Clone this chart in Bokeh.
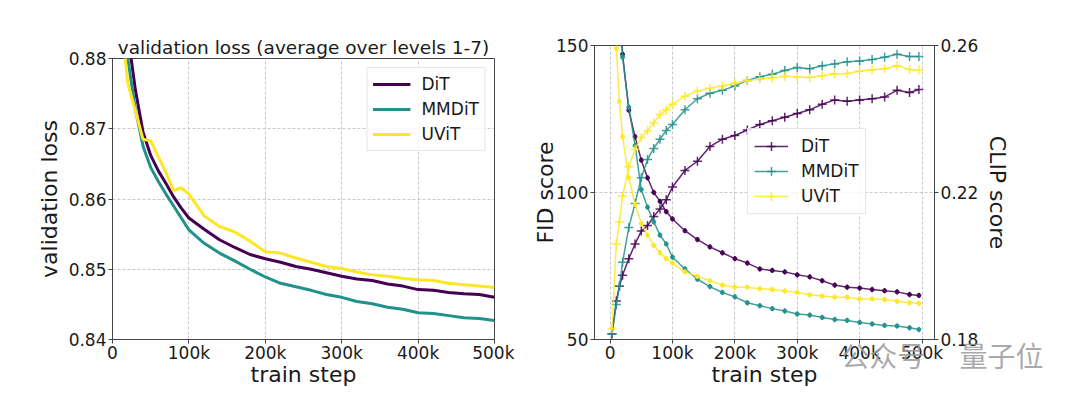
from bokeh.plotting import figure
from bokeh.layouts import row, column
from bokeh.models import (Range1d, LinearAxis, FixedTicker, Legend, LegendItem,
                          Title, ColumnDataSource)
from bokeh.embed import file_html
from bokeh.resources import INLINE

FONT = "DejaVu Sans"
TEXT = "#1a1a1a"
FRAME = "#444444"

models = ["DiT", "MMDiT", "UViT"]
colors = ["#440154", "#21918c", "#fde725"]

# ---------------- left panel: validation loss ----------------
loss_steps = [10000, 20000, 30000, 40000, 50000, 60000, 70000, 80000, 90000, 100000,
              120000, 140000, 160000, 180000, 200000, 220000, 240000, 260000, 280000, 300000,
              320000, 340000, 360000, 380000, 400000, 420000, 440000, 460000, 480000, 500000]
loss_dit = [0.8970, 0.8835, 0.8755, 0.8695, 0.8662, 0.8640, 0.8622, 0.8603, 0.8587, 0.8573,
            0.8557, 0.8542, 0.8531, 0.8521, 0.8515, 0.8510, 0.8504, 0.8500, 0.8495, 0.8490,
            0.8486, 0.8484, 0.8479, 0.8476, 0.8471, 0.8470, 0.8467, 0.8465, 0.8464, 0.8460]
loss_mmdit = [0.8950, 0.8800, 0.8727, 0.8675, 0.8645, 0.8625, 0.8607, 0.8590, 0.8573, 0.8556,
              0.8537, 0.8523, 0.8512, 0.8500, 0.8489, 0.8480, 0.8475, 0.8470, 0.8464, 0.8460,
              0.8454, 0.8451, 0.8446, 0.8443, 0.8438, 0.8437, 0.8434, 0.8431, 0.8430, 0.8427]
loss_uvit = [0.8870, 0.8765, 0.8725, 0.8685, 0.8683, 0.8660, 0.8638, 0.8612, 0.8616, 0.8607,
             0.8576, 0.8561, 0.8553, 0.8540, 0.8525, 0.8523, 0.8516, 0.8510, 0.8504, 0.8501,
             0.8496, 0.8492, 0.8490, 0.8487, 0.8485, 0.8484, 0.8480, 0.8478, 0.8476, 0.8474]

x_ticks = [0, 100000, 200000, 300000, 400000, 500000]
x_tick_labels = ["0", "100k", "200k", "300k", "400k", "500k"]
loss_ticks = [0.84, 0.85, 0.86, 0.87, 0.88]
loss_tick_labels = ["0.84", "0.85", "0.86", "0.87", "0.88"]

# ---------------- right panel: FID / CLIP ----------------
score_steps = [3000, 10000, 15000, 20000, 30000, 40000, 50000, 60000, 70000, 80000, 90000,
               100000, 120000, 140000, 160000, 180000, 200000, 220000, 240000, 260000, 280000,
               300000, 320000, 340000, 360000, 380000, 400000, 420000, 440000, 460000, 480000,
               495000]
fid_dit = [280, 210, 170, 147, 128, 119, 111, 105, 100, 97, 93.5,
           91, 87, 84, 81.5, 79.5, 77.5, 76, 74, 73.5, 73,
           72, 71.3, 70, 68.5, 67.8, 67.5, 67, 66.6, 66.2, 65.3, 65]
fid_mmdit = [260, 200, 165, 146, 129, 116, 101, 95, 90, 85.5, 82.5,
             78, 74, 70.5, 68, 66, 64.5, 62.5, 61.5, 60.5, 59.7,
             58.7, 58.3, 57.5, 56.8, 56.5, 55.8, 55.3, 54.8, 54.6, 54, 53.4]
fid_uvit = [210, 149, 131, 119, 105, 96, 89.5, 85.5, 82, 79.5, 77.5,
            76, 73, 71.5, 70, 68.5, 67.8, 67.8, 67.3, 67, 66.5,
            66, 65.2, 64.8, 64.4, 64.4, 63.8, 63.8, 63.6, 63, 62.5, 62.3]
clip_dit = [0.1815, 0.1905, 0.1945, 0.1975, 0.2020, 0.2060, 0.2095, 0.2110, 0.2135, 0.2155, 0.2180,
            0.2215, 0.2260, 0.2285, 0.2325, 0.2345, 0.2355, 0.2370, 0.2385, 0.2395, 0.2405,
            0.2415, 0.2425, 0.2440, 0.2452, 0.2448, 0.2452, 0.2455, 0.2460, 0.2478, 0.2472, 0.2480]
clip_mmdit = [0.1815, 0.1895, 0.1945, 0.2010, 0.2105, 0.2170, 0.2240, 0.2290, 0.2320, 0.2345, 0.2369,
              0.2385, 0.2425, 0.2455, 0.2470, 0.2478, 0.2490, 0.2505, 0.2515, 0.2522, 0.2532,
              0.2540, 0.2537, 0.2545, 0.2550, 0.2556, 0.2558, 0.2562, 0.2568, 0.2576, 0.2570, 0.2570]
clip_uvit = [0.1830, 0.2060, 0.2120, 0.2190, 0.2270, 0.2318, 0.2350, 0.2368, 0.2390, 0.2412, 0.2425,
             0.2440, 0.2462, 0.2476, 0.2484, 0.2490, 0.2497, 0.2505, 0.2508, 0.2512, 0.2516,
             0.2514, 0.2513, 0.2518, 0.2523, 0.2524, 0.2530, 0.2534, 0.2537, 0.2545, 0.2535, 0.2533]
fid_err = 0.9

fid_ticks = [50, 100, 150]
fid_tick_labels = ["50", "100", "150"]
clip_ticks = [0.18, 0.22, 0.26]
clip_tick_labels = ["0.18", "0.22", "0.26"]

watermark = "公众号\u3000 量子位"


def style_axis(ax, tick_standoff=2, label_standoff=6):
    ax.major_label_text_font = FONT
    ax.major_label_text_font_size = "17px"
    ax.major_label_text_color = TEXT
    ax.axis_label_text_font = FONT
    ax.axis_label_text_font_size = "22px"
    ax.axis_label_text_font_style = "normal"
    ax.axis_label_text_color = TEXT
    ax.major_tick_out = 4
    ax.major_tick_in = 0
    ax.minor_tick_out = 0
    ax.minor_tick_in = 0
    ax.major_tick_line_color = FRAME
    ax.axis_line_color = FRAME
    ax.major_label_standoff = tick_standoff
    ax.axis_label_standoff = label_standoff


def style_grid(p):
    for g in (p.xgrid[0], p.ygrid[0]):
        g.grid_line_color = "#c8c8c8"
        g.grid_line_dash = "3 2"
        g.grid_line_width = 1


def style_legend(lg, glyph_w, standoff, pad):
    lg.label_text_font = FONT
    lg.label_text_font_size = "17px"
    lg.label_text_color = TEXT
    lg.glyph_width = glyph_w
    lg.glyph_height = 22
    lg.label_height = 22
    lg.label_standoff = standoff
    lg.spacing = 3
    lg.padding = pad
    lg.border_line_color = "#d0d0d0"
    lg.border_line_width = 1
    lg.background_fill_alpha = 0.85


# ---------- figure 1 ----------
p1 = figure(frame_width=382, frame_height=281, output_backend="svg", toolbar_location=None,
            x_range=Range1d(0, 500000), y_range=Range1d(0.84, 0.88),
            min_border_left=112, min_border_right=20, min_border_top=58, min_border_bottom=60)
p1.title.text = "validation loss (average over levels 1-7)"
p1.title.align = "center"
p1.title.text_font = FONT
p1.title.text_font_size = "18.5px"
p1.title.text_font_style = "normal"
p1.title.text_color = TEXT
p1.title.standoff = 2
p1.outline_line_color = FRAME
p1.outline_line_alpha = 1

p1.xaxis.ticker = FixedTicker(ticks=x_ticks)
p1.xaxis.major_label_overrides = dict(zip(x_ticks, x_tick_labels))
p1.yaxis.ticker = FixedTicker(ticks=loss_ticks)
p1.yaxis.major_label_overrides = dict(zip(loss_ticks, loss_tick_labels))
p1.xaxis.axis_label = "train step"
p1.yaxis.axis_label = "validation loss"
style_axis(p1.xaxis[0], tick_standoff=-1, label_standoff=-4)
style_axis(p1.yaxis[0], tick_standoff=2, label_standoff=4)
style_grid(p1)

items1 = []
for name, col, ys in zip(models, colors, [loss_dit, loss_mmdit, loss_uvit]):
    r = p1.line(loss_steps, ys, line_color=col, line_width=3)
    items1.append(LegendItem(label=name, renderers=[r]))
lg1 = Legend(items=items1, location="top_right", margin=9)
style_legend(lg1, 38, 11, 5)
p1.add_layout(lg1)

# ---------- figure 2 ----------
p2 = figure(frame_width=340, frame_height=294, output_backend="svg", toolbar_location=None,
            x_range=Range1d(-25000, 520000), y_range=Range1d(50, 150),
            min_border_left=80, min_border_right=140, min_border_top=45, min_border_bottom=60)
p2.extra_y_ranges = {"clip": Range1d(0.18, 0.26)}
p2.outline_line_color = FRAME
p2.outline_line_alpha = 1
p2.xaxis.ticker = FixedTicker(ticks=x_ticks)
p2.xaxis.major_label_overrides = dict(zip(x_ticks, x_tick_labels))
p2.yaxis.ticker = FixedTicker(ticks=fid_ticks)
p2.yaxis.major_label_overrides = dict(zip(fid_ticks, fid_tick_labels))
p2.xaxis.axis_label = "train step"
p2.yaxis.axis_label = "FID score"
style_axis(p2.xaxis[0], tick_standoff=-1, label_standoff=-4)
style_axis(p2.yaxis[0], tick_standoff=2, label_standoff=-5)

rax = LinearAxis(y_range_name="clip", axis_label="CLIP score",
                 ticker=FixedTicker(ticks=clip_ticks),
                 major_label_overrides=dict(zip(clip_ticks, clip_tick_labels)))
style_axis(rax, tick_standoff=2, label_standoff=4)
p2.add_layout(rax, "right")
style_grid(p2)

items2 = []
for name, col, fid, clip in zip(models, colors, [fid_dit, fid_mmdit, fid_uvit],
                                [clip_dit, clip_mmdit, clip_uvit]):
    src = ColumnDataSource(dict(x=score_steps, fid=fid, clip=clip,
                                lo=[v - fid_err for v in fid], hi=[v + fid_err for v in fid]))
    # FID (left axis)
    p2.line("x", "fid", source=src, line_color=col, line_width=1.5, line_alpha=0.85)
    p2.segment("x", "lo", "x", "hi", source=src, line_color=col, line_width=1.5, line_alpha=0.85)
    p2.scatter("x", "fid", source=src, size=4, fill_color=col, line_color=col, alpha=0.9)
    # CLIP (right axis)
    rl = p2.line("x", "clip", source=src, line_color=col, line_width=1.5, line_alpha=0.85,
                 y_range_name="clip")
    rc = p2.scatter("x", "clip", source=src, marker="cross", size=9, line_color=col,
                    line_width=1.5, line_alpha=0.85, y_range_name="clip")
    items2.append(LegendItem(label=name, renderers=[rl, rc]))
lg2 = Legend(items=items2, location=(153, 125))
style_legend(lg2, 34, 13, 6)
p2.add_layout(lg2)

# watermark of the source image, as a bottom title pulled up over the tick row
wm = Title(text=watermark, align="right", offset=-109, vertical_align="top", standoff=-110,
           text_font="Noto Sans CJK SC", text_font_size="28px", text_font_style="normal",
           text_color="#9a9a9a", text_alpha=0.85)
p2.add_layout(wm, "below")

layout = row(column(p1), column(p2))
open("out.html", "w").write(file_html(layout, INLINE))
